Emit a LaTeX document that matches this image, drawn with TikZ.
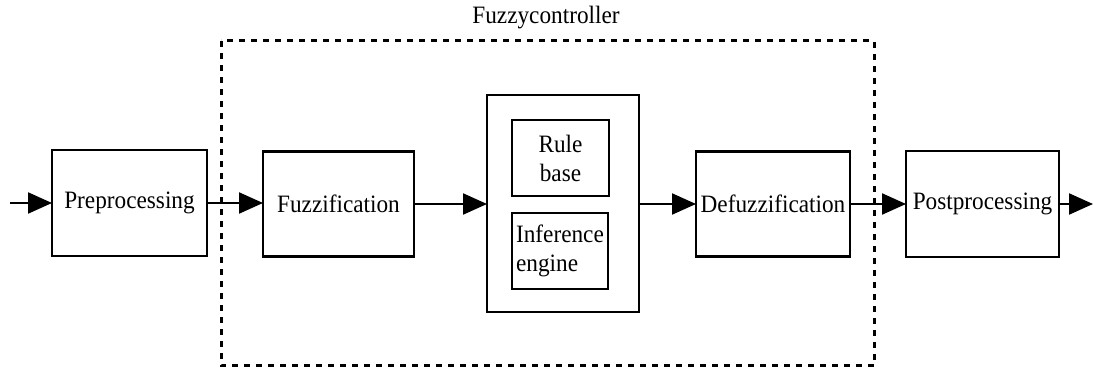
\documentclass[tikz,border=0pt]{standalone}
\usepackage{fontspec}
\setmainfont{Liberation Serif}[FakeStretch=0.93]
\usetikzlibrary{arrows.meta}
\begin{document}
\begin{tikzpicture}[x=1pt,y=-1pt,
  txt/.style={font=\fontsize{25}{29}\selectfont},
  blk/.style={draw,line width=2.8pt,inner sep=0pt,outer sep=0pt,txt},
  conn/.style={line width=2.2pt,-{Triangle[length=24pt,width=21pt]}},
  ctrl/.style={draw,line width=3pt,dash pattern=on 6pt off 6pt}]
\useasboundingbox (0,0) rectangle (1093,371);
\draw[ctrl] (221,41) rectangle (874,366);
\node[txt] (title) at (546,18) {Fuzzycontroller};
\node[blk,minimum width=155pt,minimum height=106pt] (pre) at (129.5,203) {Preprocessing};
\node[blk,minimum width=151pt,minimum height=105pt] (fuzz) at (338.5,204) {Fuzzification};
\node[blk,minimum width=152pt,minimum height=217pt] (mid) at (563,203.5) {};
\node[blk,minimum width=97pt,minimum height=76pt,align=center] (rule) at (560.5,158) {Rule\\base};
\node[blk,minimum width=96pt,minimum height=76pt,align=left] (inf) at (560,251) {Inference\\engine};
\node[blk,minimum width=154pt,minimum height=105pt] (defuzz) at (773,204) {Defuzzification};
\node[blk,minimum width=153pt,minimum height=106pt] (post) at (982.5,204) {Postprocessing};
\coordinate (in) at (10,203);
\coordinate (out) at (1093,204);
\draw[conn] (in) -- (pre.west);
\draw[conn] (pre.east) -- (fuzz.west |- pre.east);
\draw[conn] (fuzz.east) -- (mid.west |- fuzz.east);
\draw[conn] (mid.east |- defuzz.west) -- (defuzz.west);
\draw[conn] (defuzz.east) -- (post.west);
\draw[conn] (post.east) -- (out);
\end{tikzpicture}
\end{document}
